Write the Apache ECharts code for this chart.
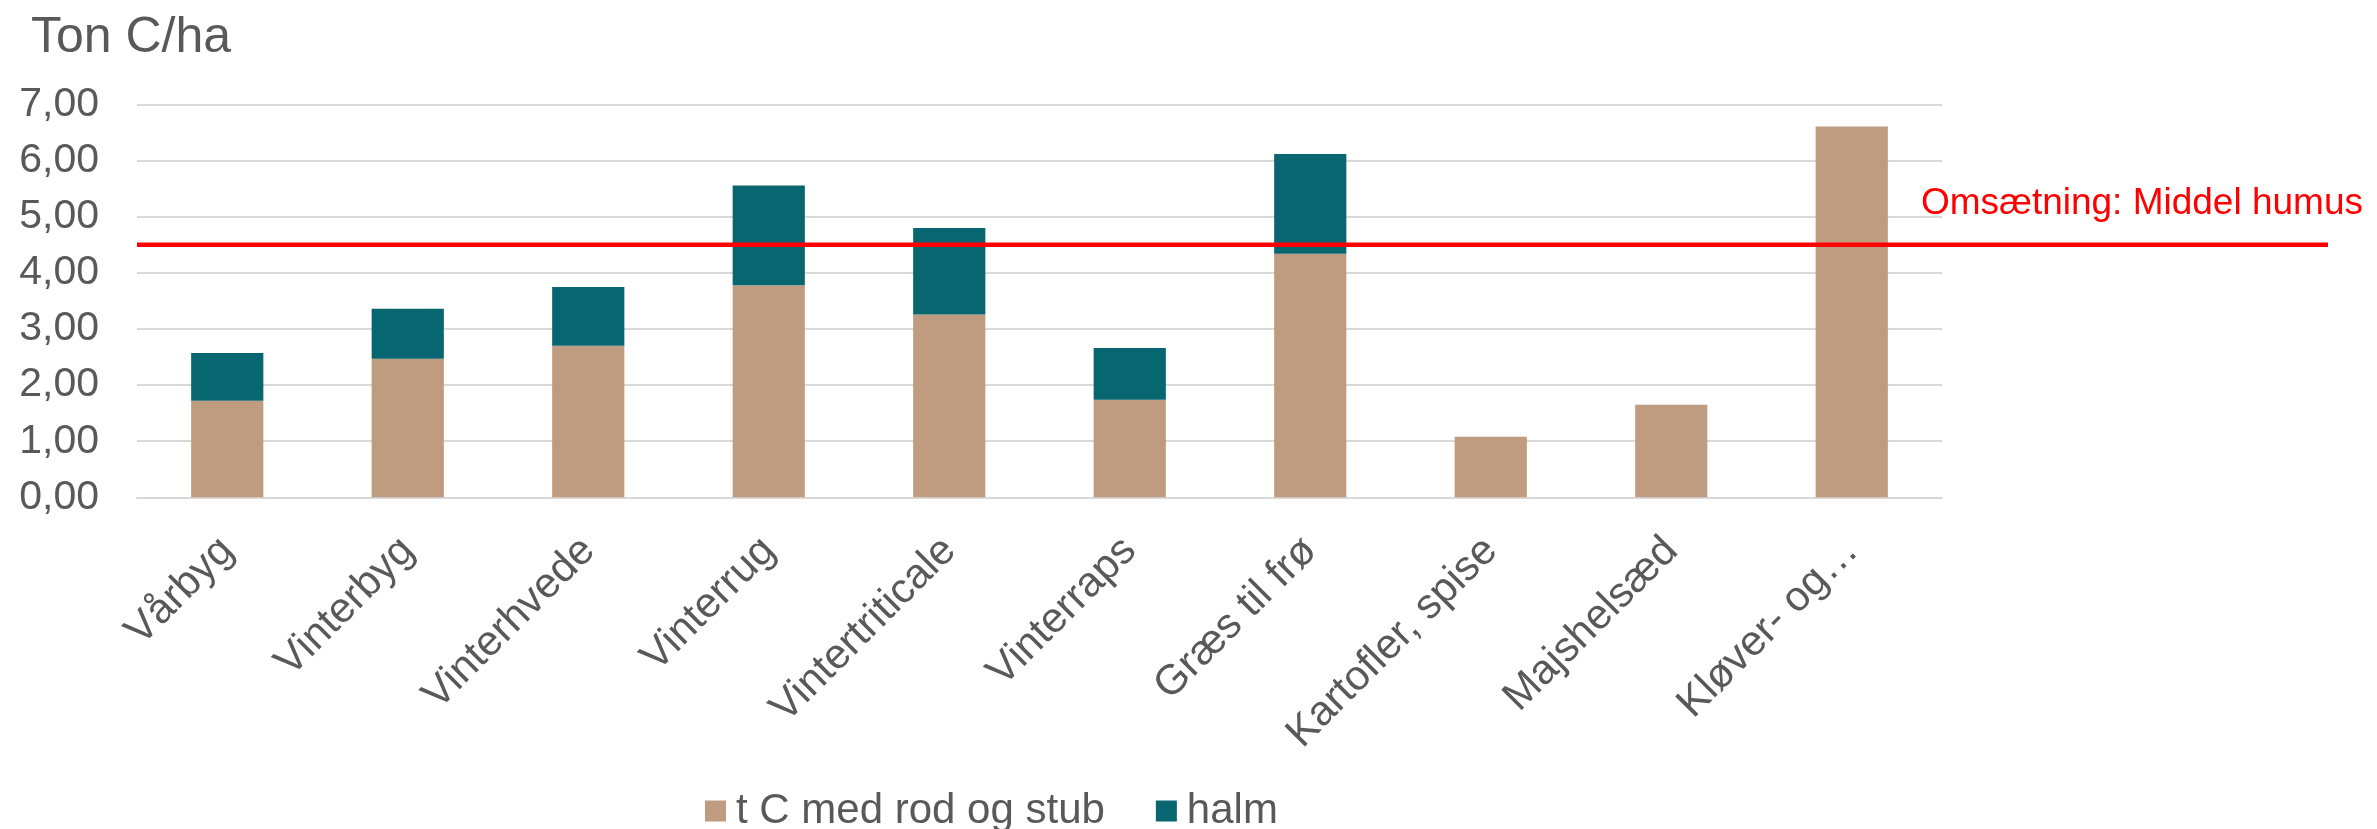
<!DOCTYPE html>
<html>
<head>
<meta charset="utf-8">
<script src="https://cdn.jsdelivr.net/npm/echarts@6/dist/echarts.min.js"></script>
<style>
html,body{margin:0;padding:0;background:#fff;}
#chart{width:2377px;height:829px;}
</style>
</head>
<body>
<div id="chart"></div>
<script>
const categories = ['Vårbyg','Vinterbyg','Vinterhvede','Vinterrug','Vintertriticale','Vinterraps','Græs til frø','Kartofler, spise','Majshelsæd','Kløver- og…'];
const rodStub = [1.72, 2.47, 2.70, 3.78, 3.26, 1.74, 4.34, 1.08, 1.65, 6.61];
const halm = [0.85, 0.89, 1.05, 1.78, 1.54, 0.92, 1.78, 0, 0, 0];
const omsaetning = 4.5;
const yTicks = [0, 1, 2, 3, 4, 5, 6, 7];
const lineLabel = 'Omsætning: Middel humus';

const FONT = 'Liberation Sans, Arial, sans-serif';
const chart = echarts.init(document.getElementById('chart'), null, {renderer: 'canvas'});
chart.setOption({
  animation: false,
  backgroundColor: '#fff',
  textStyle: {fontFamily: FONT},
  title: {
    text: 'Ton C/ha', left: 26, top: 8,
    textStyle: {fontFamily: FONT, fontSize: 50, fontWeight: 'normal', color: '#595959'}
  },
  legend: {
    left: 705, top: 790, padding: 0,
    itemWidth: 21, itemHeight: 21, itemGap: 51,
    icon: 'rect',
    textStyle: {fontFamily: FONT, fontSize: 42, color: '#595959', padding: [0, 0, 0, 5]},
    data: ['t C med rod og stub', 'halm']
  },
  grid: [
    {left: 137, right: 435, top: 104.6, bottom: 331.7, containLabel: false},
    {left: 137, right: 49, top: 104.6, bottom: 331.7, containLabel: false}
  ],
  xAxis: [
    {
      type: 'category', data: categories, gridIndex: 0,
      axisLine: {show: true, lineStyle: {color: '#D9D9D9', width: 2}},
      axisTick: {show: false},
      axisLabel: {rotate: 45, margin: 47, fontSize: 42, color: '#595959', fontFamily: FONT, interval: 0}
    },
    {type: 'value', gridIndex: 1, min: 0, max: 1, show: false}
  ],
  yAxis: [
    {
      type: 'value', gridIndex: 0, min: 0, max: 7, interval: 1,
      axisLine: {show: false}, axisTick: {show: false},
      splitLine: {lineStyle: {color: '#D9D9D9', width: 2}},
      axisLabel: {margin: 38, fontSize: 41, color: '#595959', fontFamily: FONT,
        formatter: v => yTicks.includes(v) ? v.toFixed(2).replace('.', ',') : ''}
    },
    {type: 'value', gridIndex: 1, min: 0, max: 7, show: false}
  ],
  series: [
    {
      name: 't C med rod og stub', type: 'bar', stack: 'total', xAxisIndex: 0, yAxisIndex: 0,
      data: rodStub, barCategoryGap: '60%',
      itemStyle: {color: '#BF9B80'}
    },
    {
      name: 'halm', type: 'bar', stack: 'total', xAxisIndex: 0, yAxisIndex: 0,
      data: halm, barCategoryGap: '60%',
      itemStyle: {color: '#086670'}
    },
    {
      name: 'omsaetning', type: 'line', xAxisIndex: 1, yAxisIndex: 1,
      data: [[0, omsaetning], [1, omsaetning]],
      symbol: 'none', silent: true,
      lineStyle: {color: '#FF0000', width: 4.5},
      endLabel: {
        show: true, distance: 0,
        formatter: () => lineLabel,
        align: 'right', verticalAlign: 'middle', offset: [35, -41],
        fontFamily: FONT, fontSize: 37, color: '#FF0000'
      }
    }
  ]
});
</script>
</body>
</html>
